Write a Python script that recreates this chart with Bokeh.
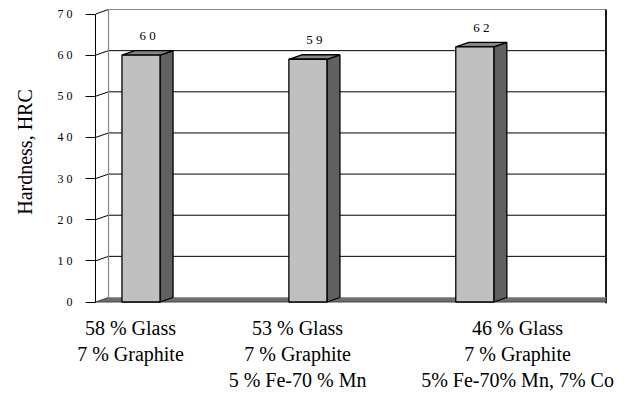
from bokeh.plotting import figure
from bokeh.models import Range1d, FixedTicker
from bokeh.embed import file_html
from bokeh.resources import INLINE
from bokeh.core.properties import value

# ---------------- data ----------------
categories = [
    "58 % Glass\n7 % Graphite",
    "53 % Glass\n7 % Graphite\n5 % Fe-70 % Mn",
    "46 % Glass\n7 % Graphite\n5% Fe-70% Mn, 7% Co",
]
hardness = [60, 59, 62]
bar_labels = ["6 0", "5 9", "6 2"]
y_ticks = [0, 10, 20, 30, 40, 50, 60, 70]
y_tick_labels = ["0", "1 0", "2 0", "3 0", "4 0", "5 0", "6 0", "7 0"]
y_title = "Hardness, HRC"

# ---------------- layout ----------------
FONT = "Liberation Serif"
W, H = 630, 396
bar_pos = [0.0, 1.0, 2.0]
label_pos = [-0.063, 0.938, 2.256]
bar_w = 0.228
dxu = 0.078      # depth offset in x units
dyu = 1.094      # depth offset in y units
x0, x1 = -0.2726, 2.801
xR = 2.786
PXY = 4.114                      # pixels per y unit
FRAME_BOTTOM = 303
y1 = 301.5 / PXY
y0 = (301.5 - FRAME_BOTTOM) / PXY

p = figure(width=W, height=H, x_range=Range1d(x0, x1), y_range=Range1d(y0, y1),
           output_backend="svg", toolbar_location=None,
           min_border_left=95, min_border_right=22, min_border_top=0,
           min_border_bottom=H - FRAME_BOTTOM)
p.outline_line_color = None
p.xgrid.visible = False
p.ygrid.visible = False
p.background_fill_color = "white"

# back wall gridlines
top_back = y_ticks[-1] + dyu
for t in y_ticks[1:-1]:
    p.segment(x0=[x0 + dxu], y0=[t + dyu], x1=[xR], y1=[t + dyu], line_color="black", line_width=1)
# left wall diagonals
for t in y_ticks[1:]:
    p.segment(x0=[x0], y0=[t], x1=[x0 + dxu], y1=[t + dyu], line_color="black", line_width=1)
# wall borders
p.segment(x0=[x0 + dxu], y0=[top_back], x1=[xR], y1=[top_back], line_color="#8a8a8a", line_width=1.2)
p.segment(x0=[x0 + dxu], y0=[dyu], x1=[x0 + dxu], y1=[top_back], line_color="#8a8a8a", line_width=1.2)
p.segment(x0=[xR], y0=[y0], x1=[xR], y1=[top_back], line_color="black", line_width=1.8)

# floor
p.patch(x=[x0, xR, xR, x0 + dxu], y=[0, 0, dyu, dyu], fill_color="#6e6e6e",
        line_color="#444444", line_width=1)
p.segment(x0=[x0 + dxu], y0=[dyu], x1=[xR], y1=[dyu], line_color="#9a9a9a", line_width=1)

# bars (3D)
front_l = [b - bar_w / 2 for b in bar_pos]
front_r = [b + bar_w / 2 for b in bar_pos]
side_xs = [[r, r + dxu, r + dxu, r] for r in front_r]
side_ys = [[0, dyu, v + dyu, v] for v in hardness]
top_xs = [[l, l + dxu, r + dxu, r] for l, r in zip(front_l, front_r)]
top_ys = [[v, v + dyu, v + dyu, v] for v in hardness]
p.patches(xs=side_xs, ys=side_ys, fill_color="#606060", line_color="black", line_width=1.3)
p.patches(xs=top_xs, ys=top_ys, fill_color="#858585", line_color="black", line_width=1.3)
p.quad(left=front_l, right=front_r, bottom=0, top=hardness, fill_color="#c0c0c0",
       line_color="black", line_width=1.3)

# value labels
p.text(x=[b + dxu / 2 for b in bar_pos], y=[v + dyu + 3.6 for v in hardness], text=bar_labels,
       text_font=value(FONT), text_font_size="13px", text_align="center",
       text_baseline="middle", text_color="black")

# x axis: category labels
xa = p.xaxis[0]
xa.ticker = FixedTicker(ticks=label_pos)
xa.major_label_overrides = {t: s for t, s in zip(label_pos, categories)}
xa.axis_line_color = None
xa.major_tick_out = 0
xa.major_tick_in = 0
xa.minor_tick_out = 0
xa.minor_tick_in = 0
xa.major_label_standoff = 13
xa.major_label_text_font = FONT
xa.major_label_text_font_size = "20px"
xa.major_label_text_color = "black"

# y axis
ya = p.yaxis[0]
ya.ticker = FixedTicker(ticks=y_ticks)
ya.major_label_overrides = {t: s for t, s in zip(y_ticks, y_tick_labels)}
ya.bounds = (0, 70)
ya.major_tick_out = 10
ya.major_tick_in = 0
ya.minor_tick_out = 0
ya.minor_tick_in = 0
ya.major_label_standoff = 13
ya.major_label_text_font = FONT
ya.major_label_text_font_size = "12px"
ya.major_label_text_color = "black"
ya.axis_line_color = "black"
ya.major_tick_line_color = "black"
ya.axis_label = y_title
ya.axis_label_text_font = FONT
ya.axis_label_text_font_size = "20px"
ya.axis_label_text_font_style = "normal"
ya.axis_label_text_color = "black"
ya.axis_label_standoff = 19

open("out.html", "w").write(file_html(p, INLINE))
